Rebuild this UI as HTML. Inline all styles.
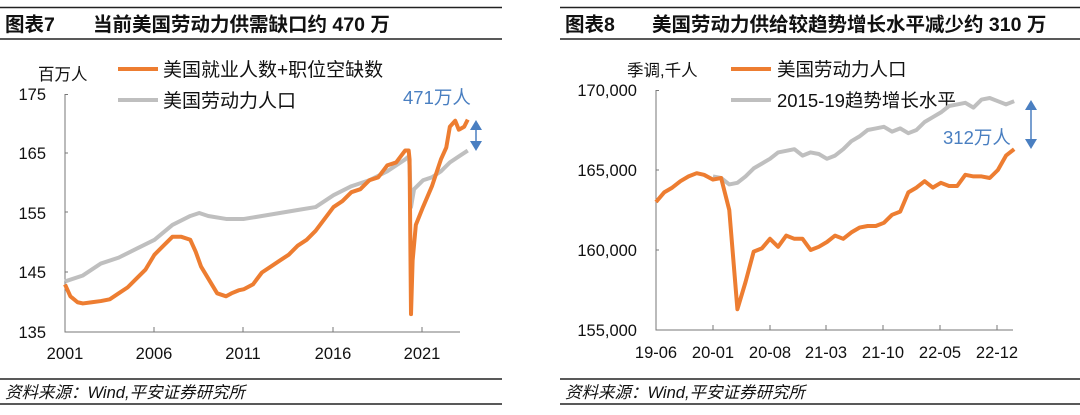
<!DOCTYPE html>
<html><head><meta charset="utf-8"><style>
html,body{margin:0;padding:0;background:#fff;}
svg{display:block;font-family:"Liberation Sans","Noto Sans CJK SC",sans-serif;}
</style></head><body>
<svg width="1080" height="415" viewBox="0 0 1080 415">
<!-- LEFT PANEL -->
<line x1="0" y1="7.5" x2="502" y2="7.5" stroke="#222" stroke-width="1.5"/>
<line x1="0" y1="39" x2="502" y2="39" stroke="#222" stroke-width="1.5"/>
<text x="5" y="31" font-size="19.5" font-weight="bold" fill="#111">图表7</text>
<text x="93" y="31" font-size="19.5" font-weight="bold" fill="#111">当前美国劳动力供需缺口约 470 万</text>
<text x="38" y="80" font-size="16.5" fill="#111">百万人</text>
<line x1="118" y1="69" x2="158" y2="69" stroke="#ed7d31" stroke-width="4"/>
<text x="163" y="76" font-size="19" fill="#111">美国就业人数+职位空缺数</text>
<line x1="118" y1="100" x2="158" y2="100" stroke="#bfbfbf" stroke-width="4"/>
<text x="163" y="107" font-size="19" fill="#111">美国劳动力人口</text>
<g font-size="16.5" fill="#111" text-anchor="end">
<text x="46" y="100">175</text><text x="46" y="159">165</text><text x="46" y="219">155</text><text x="46" y="278">145</text><text x="46" y="338">135</text>
</g>
<g stroke="#777" stroke-width="1" fill="none">
<path d="M68,94.5H65V332H460"/>
<path d="M154,332v-5M243,332v-5M333,332v-5M422,332v-5M65,153h3M65,212h3M65,272h3"/>
</g>
<g font-size="16.5" fill="#111" text-anchor="middle">
<text x="65" y="359">2001</text><text x="154" y="359">2006</text><text x="243" y="359">2011</text><text x="333" y="359">2016</text><text x="422" y="359">2021</text>
</g>
<g transform="translate(65,332) scale(17.9,-5.95)" fill="none" stroke-linejoin="round">
<polyline vector-effect="non-scaling-stroke" stroke="#bfbfbf" stroke-width="4" points="0,8.5 1,9.5 2,11.5 3,12.5 4,14 5,15.5 6,18 7,19.5 7.5,20 8,19.5 9,19 10,19 11,19.5 12,20 13,20.5 14,21 15,23 16,24.5 17,25.5 18,27 19,29 19.2,29.5 19.25,28 19.33,21 19.5,24 20,25.5 20.5,26 21,27 21.5,28.5 22,29.5 22.5,30.5"/>
<polyline vector-effect="non-scaling-stroke" stroke="#ed7d31" stroke-width="4" points="0,8 0.3,6 0.7,5 1,4.8 1.5,5 2,5.2 2.5,5.5 3,6.5 3.5,7.5 4,9 4.5,10.5 5,13 5.5,14.5 6,16 6.5,16 7,15.5 7.3,13.5 7.6,11 8,9 8.5,6.5 9,6 9.3,6.5 9.7,7 10,7.2 10.5,8 11,10 11.5,11 12,12 12.5,13 13,14.5 13.5,15.5 14,17 14.5,19 15,21 15.5,22 16,23.5 16.5,24 17,25.5 17.5,26 18,28 18.5,28.5 19,30.5 19.2,30.5 19.25,29 19.33,3 19.42,12 19.6,18 20,21 20.5,24.5 21,29 21.3,31 21.5,34.5 21.8,35.5 22,34 22.3,34.5 22.5,35.7"/>
</g>
<line x1="476" y1="126" x2="476" y2="145" stroke="#4a7fc1" stroke-width="1.5"/>
<path d="M470,130 L476,120 L482,130Z M470,141 L476,151 L482,141Z" fill="#4a7fc1"/>
<text x="403" y="104" font-size="18.5" fill="#4a7fc1">471万人</text>
<line x1="0" y1="379" x2="502" y2="379" stroke="#222" stroke-width="1.5"/>
<line x1="0" y1="404" x2="502" y2="404" stroke="#222" stroke-width="1.5"/>
<text x="5" y="398" font-size="16.5" font-style="italic" fill="#111">资料来源：Wind,平安证券研究所</text>

<!-- RIGHT PANEL -->
<line x1="560" y1="7.5" x2="1080" y2="7.5" stroke="#222" stroke-width="1.5"/>
<line x1="560" y1="39" x2="1080" y2="39" stroke="#222" stroke-width="1.5"/>
<text x="565" y="31" font-size="19.5" font-weight="bold" fill="#111">图表8</text>
<text x="652" y="31" font-size="19.5" font-weight="bold" fill="#111">美国劳动力供给较趋势增长水平减少约 310 万</text>
<text x="627" y="76" font-size="16.5" fill="#111">季调,千人</text>
<line x1="731" y1="69" x2="771" y2="69" stroke="#ed7d31" stroke-width="4"/>
<text x="777" y="76" font-size="18.5" fill="#111">美国劳动力人口</text>
<line x1="731" y1="100" x2="771" y2="100" stroke="#bfbfbf" stroke-width="4"/>
<text x="777" y="107" font-size="18.5" fill="#111">2015-19趋势增长水平</text>
<g font-size="16.5" fill="#111" text-anchor="end">
<text x="637" y="96">170,000</text><text x="637" y="176">165,000</text><text x="637" y="256">160,000</text><text x="637" y="336">155,000</text>
</g>
<g stroke="#777" stroke-width="1" fill="none">
<path d="M659,90.5H656V330H1013"/>
<path d="M713,330v-5M770,330v-5M826,330v-5M883,330v-5M940,330v-5M997,330v-5M656,170h3M656,250h3"/>
</g>
<g font-size="16.5" fill="#111" text-anchor="middle">
<text x="656" y="358">19-06</text><text x="713" y="358">20-01</text><text x="770" y="358">20-08</text><text x="826" y="358">21-03</text><text x="883" y="358">21-10</text><text x="940" y="358">22-05</text><text x="997" y="358">22-12</text>
</g>
<g transform="translate(656,330) scale(8.14,-16)" fill="none" stroke-linejoin="round">
<polyline vector-effect="non-scaling-stroke" stroke="#bfbfbf" stroke-width="4" points="7,9.6 8,9.5 9,9.1 10,9.2 11,9.6 12,10.1 13,10.4 14,10.7 15,11.1 16,11.2 17,11.3 18,10.9 19,11.1 20,11.0 21,10.7 22,10.9 23,11.3 24,11.8 25,12.1 26,12.5 27,12.6 28,12.7 29,12.4 30,12.6 31,12.3 32,12.5 33,13.0 34,13.3 35,13.6 36,14.0 37,14.1 38,14.2 39,13.9 40,14.4 41,14.5 42,14.3 43,14.1 44,14.3"/>
<polyline vector-effect="non-scaling-stroke" stroke="#ed7d31" stroke-width="4" points="0,8 1,8.6 2,8.9 3,9.3 4,9.6 5,9.8 5.9,9.7 7,9.4 8,9.5 9,7.5 10,1.3 11,3 12,4.9 13,5.1 14,5.7 15,5.2 16,5.9 17,5.7 18,5.7 19,5.0 20,5.2 21,5.5 22,5.9 23,5.7 24,6.1 25,6.4 26,6.5 27,6.5 28,6.7 29,7.2 30,7.4 31,8.6 32,8.9 33,9.3 34,8.9 35,9.2 36,9.0 37,9.0 38,9.7 39,9.6 40,9.6 41,9.5 42,10.0 43,10.9 44,11.3"/>
</g>
<line x1="1031" y1="106" x2="1031" y2="143" stroke="#4a7fc1" stroke-width="1.5"/>
<path d="M1025,110 L1031,100 L1037,110Z M1025,139 L1031,149 L1037,139Z" fill="#4a7fc1"/>
<text x="943" y="144" font-size="18.5" fill="#4a7fc1">312万人</text>
<line x1="560" y1="379" x2="1080" y2="379" stroke="#222" stroke-width="1.5"/>
<line x1="560" y1="404" x2="1080" y2="404" stroke="#222" stroke-width="1.5"/>
<text x="565" y="398" font-size="16.5" font-style="italic" fill="#111">资料来源：Wind,平安证券研究所</text>
</svg>
</body></html>
